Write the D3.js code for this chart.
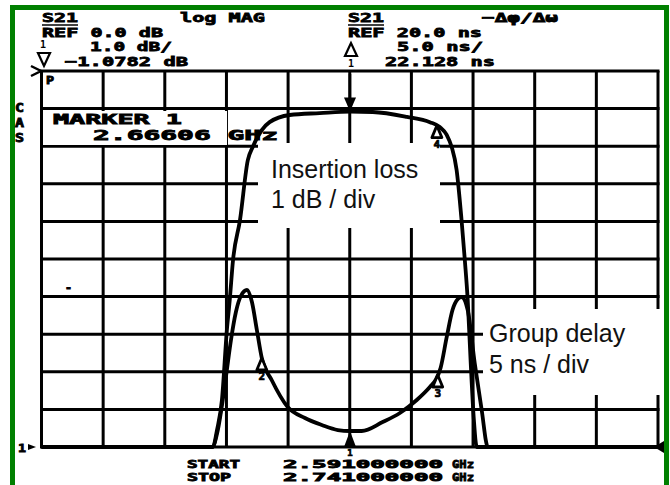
<!DOCTYPE html>
<html><head><meta charset="utf-8">
<script src="https://cdn.jsdelivr.net/npm/d3@7"></script>
<style>
html,body{margin:0;padding:0;background:#fff;}
svg{display:block;}
</style></head><body>
<svg id="chart" width="670" height="485"></svg>
<script>
// ---- data ----
const freqStart = 2.591, freqStop = 2.741;       // GHz
const divisions = 10;
const ilRef = 0, ilPerDiv = 1;                     // dB
const gdRef = 20, gdPerDiv = 5;                    // ns (reference at bottom)

const ilFreq = [2.5910, 2.6327, 2.6337, 2.6349, 2.6361, 2.6368, 2.6376, 2.6393, 2.6412, 2.6424, 2.6446, 2.6465, 2.6514, 2.6587, 2.6661, 2.6716, 2.6799, 2.6855, 2.6879, 2.6896, 2.6908, 2.6920, 2.6932, 2.6940, 2.6947, 2.6954, 2.6962, 2.6969, 2.7410];
const ilDb   = [-10, -10, -9.55, -8.75, -6.89, -6.09, -5.03, -3.96, -2.37, -2.02, -1.57, -1.36, -1.17, -1.12, -1.08, -1.09, -1.22, -1.36, -1.49, -1.70, -2.02, -2.63, -3.96, -5.03, -6.09, -7.69, -9.28, -10, -10];

const gdFreq = [2.5910, 2.6325, 2.6339, 2.6351, 2.6361, 2.6371, 2.6383, 2.6395, 2.6410, 2.6422, 2.6434, 2.6446, 2.6470, 2.6509, 2.6551, 2.6592, 2.6631, 2.6660, 2.6689, 2.6740, 2.6782, 2.6823, 2.6855, 2.6869, 2.6881, 2.6896, 2.6910, 2.6923, 2.6932, 2.6947, 2.6964, 2.6981, 2.6996, 2.7410];
const gdNs   = [20, 20, 22.26, 26.25, 30.24, 34.23, 37.95, 40.08, 40.88, 39.28, 35.56, 31.84, 28.91, 25.32, 23.86, 22.93, 22.26, 22.13, 22.13, 23.32, 24.52, 26.25, 27.98, 28.91, 30.51, 34.63, 38.22, 39.68, 39.95, 38.22, 31.17, 24.92, 20, 20];

const markerIds   = ["1", "2", "3", "4"];
const markerFreqs = [2.66606, 2.6446, 2.6874, 2.6872];
const markerTrace = ["both", "gd", "gd", "il"];

// ---- layout ----
const svg = d3.select("#chart");
const L = 41.5, R = 658, T = 71, B = 447;
const x = d3.scaleLinear().domain([freqStart, freqStop]).range([L, R]);
const yIL = d3.scaleLinear().domain([ilRef - divisions*ilPerDiv, ilRef]).range([B, T]).clamp(true);
const yGD = d3.scaleLinear().domain([gdRef, gdRef + divisions*gdPerDiv]).range([B, T]).clamp(true);

// green frame
svg.append("rect").attr("x",12.5).attr("y",7.5).attr("width",654).attr("height",540)
  .attr("fill","none").attr("stroke","#008000").attr("stroke-width",5);

// grid
const vFreqs = d3.range(divisions+1).map(i => freqStart + i*(freqStop-freqStart)/divisions);
const hVals = d3.range(divisions+1).map(i => ilRef - i*ilPerDiv);
const grid = svg.append("g").attr("stroke","#000").attr("stroke-width",3);
grid.selectAll("line.v").data(vFreqs).join("line").attr("class","v")
  .attr("x1",d=>x(d)).attr("x2",d=>x(d)).attr("y1",T).attr("y2",B);
grid.selectAll("line.h").data(hVals).join("line").attr("class","h")
  .attr("x1",L-1.5).attr("x2",R+1.5).attr("y1",d=>yIL(d)).attr("y2",d=>yIL(d));

// white boxes behind annotations
const boxes = [[43,111,184,34],[258,143,182,85],[483,309,178,86]];
svg.selectAll("rect.box").data(boxes).join("rect").attr("class","box")
  .attr("x",d=>d[0]).attr("y",d=>d[1]).attr("width",d=>d[2]).attr("height",d=>d[3]).attr("fill","#fff");

// traces
const ilData = ilFreq.map((f,i)=>[f, ilDb[i]]);
const gdData = gdFreq.map((f,i)=>[f, gdNs[i]]);
const lineIL = d3.line().x(d=>x(d[0])).y(d=>yIL(d[1])).curve(d3.curveMonotoneX);
const lineGD = d3.line().x(d=>x(d[0])).y(d=>yGD(d[1])).curve(d3.curveMonotoneX);
svg.append("path").attr("d",lineIL(ilData)).attr("fill","none").attr("stroke","#000").attr("stroke-width",3.8).attr("stroke-linejoin","round");
svg.append("path").attr("d",lineGD(gdData)).attr("fill","none").attr("stroke","#000").attr("stroke-width",3.8).attr("stroke-linejoin","round");

// markers
function interp(fs, vs, f){
  for(let i=0;i<fs.length-1;i++){ if(f>=fs[i] && f<=fs[i+1]){ const t=(f-fs[i])/(fs[i+1]-fs[i]); return vs[i]+t*(vs[i+1]-vs[i]); } }
  return vs[vs.length-1];
}
const mk = svg.append("g");
function digit(str, tx, ty, size){
  mk.append("text").attr("x",tx).attr("y",ty).attr("text-anchor","middle")
    .attr("font-family","'DejaVu Sans Mono',monospace").attr("font-weight","bold")
    .attr("font-size",size||11).attr("stroke","#000").attr("stroke-width",0.7).text(str);
}
markerIds.forEach((id,i)=>{
  const f = markerFreqs[i], mx = x(f);
  if(id==="1"){
    const yi = yIL(interp(ilFreq, ilDb, f));
    mk.append("line").attr("x1",mx).attr("x2",mx).attr("y1",T+3).attr("y2",yi-12).attr("stroke","#000").attr("stroke-width",2.5);
    mk.append("path").attr("d",`M${mx-6},${yi-14}L${mx+6},${yi-14}L${mx},${yi}Z`).attr("fill","#000");
    mk.append("line").attr("x1",mx).attr("x2",mx).attr("y1",yi+3).attr("y2",yi+30).attr("stroke","#000").attr("stroke-width",1.5);
    const yg = yGD(interp(gdFreq, gdNs, f));
    mk.append("path").attr("d",`M${mx},${yg}L${mx-6},${B}L${mx+6},${B}Z`).attr("fill","#000");
    digit("1", mx, B+9, 9);
  } else {
    const yv = markerTrace[i]==="il" ? yIL(interp(ilFreq, ilDb, f)) : yGD(interp(gdFreq, gdNs, f));
    mk.append("path").attr("d",`M${mx},${yv}L${mx-5},${yv+12}L${mx+5},${yv+12}Z`).attr("fill","#fff").attr("stroke","#000").attr("stroke-width",2.8).attr("stroke-linejoin","round");
    digit(id, mx, yv+22, 11);
  }
});

// instrument text
function itext(str, tx, ty, w, size){
  svg.append("text").attr("x",tx).attr("y",ty)
    .attr("font-family","'DejaVu Sans Mono', monospace").attr("font-weight","bold")
    .attr("font-size",size||13).attr("textLength",w).attr("lengthAdjust","spacingAndGlyphs")
    .attr("fill","#000").attr("stroke","#000").attr("stroke-width",0.8).text(str);
}
itext("S21", 42, 22, 36);
svg.append("line").attr("x1",42).attr("x2",78).attr("y1",25).attr("y2",25).attr("stroke","#000").attr("stroke-width",1.5);
itext("log MAG", 180, 22, 85);
itext("REF 0.0 dB", 42, 37, 121);
itext("1.0 dB/", 90, 51, 82);
itext("\u22121.0782 dB", 65, 66, 123);
itext("S21", 348, 22, 36);
svg.append("line").attr("x1",348).attr("x2",384).attr("y1",25).attr("y2",25).attr("stroke","#000").attr("stroke-width",1.5);
itext("\u2212\u0394\u03C6/\u0394\u03C9", 482, 22, 76);
itext("REF 20.0 ns", 348, 37, 134);
itext("5.0 ns/", 397, 51, 86);
itext("22.128 ns", 385, 66, 110);
// header marker symbols
svg.append("text").attr("x",40).attr("y",48).attr("font-family","'DejaVu Sans Mono',monospace").attr("font-weight","bold").attr("font-size",10).text("1");
svg.append("path").attr("d","M38,53L50,53L44,66Z").attr("fill","none").attr("stroke","#000").attr("stroke-width",2.2);
svg.append("path").attr("d","M351,43L345,56L357,56Z").attr("fill","none").attr("stroke","#000").attr("stroke-width",2.2);
svg.append("text").attr("x",351).attr("y",67).attr("text-anchor","middle").attr("font-family","'DejaVu Sans Mono',monospace").attr("font-weight","bold").attr("font-size",10).text("1");

itext("MARKER 1", 53, 124, 129, 14);
itext("2.66606 GHz", 93, 140, 185, 14);
itext("C", 15, 112, 9, 12);
itext("A", 15, 127, 9, 12);
itext("S", 15, 142, 9, 12);
// reference position indicators
svg.append("path").attr("d","M31,66L41,71L31,76").attr("fill","none").attr("stroke","#000").attr("stroke-width",2.5);
itext("P", 46, 84, 8, 10);
itext("1", 18, 452, 8, 11);
svg.append("path").attr("d","M28,444L36,447L28,450Z").attr("fill","#000");
svg.append("path").attr("d","M654,447L664,441L664,453Z").attr("fill","#000");
itext("-", 65, 291, 7, 10);

itext("START", 187, 468, 53, 11);
itext("2.591000000", 283, 468, 160, 11);
itext("GHz", 452, 468, 22, 11);
itext("STOP", 187, 481, 44, 11);
itext("2.741000000", 283, 481, 160, 11);
itext("GHz", 452, 481, 22, 11);

// annotations
const ann = [["Insertion loss",271,178],["1 dB / div",271,208],["Group delay",489,342],["5 ns / div",489,373]];
svg.selectAll("text.ann").data(ann).join("text").attr("class","ann")
  .attr("x",d=>d[1]).attr("y",d=>d[2]).attr("font-family","'Liberation Sans', Arial, sans-serif")
  .attr("font-size",25).attr("fill","#111").text(d=>d[0]);
</script>
</body></html>
